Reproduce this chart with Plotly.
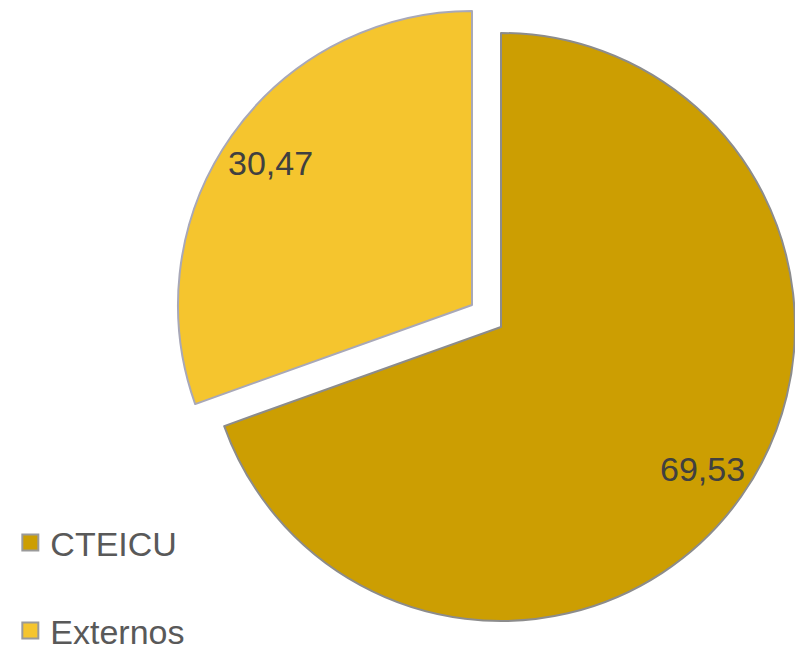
import math
import plotly.graph_objects as go

labels = ["CTEICU", "Externos"]
values = [69.53, 30.47]
colors = ["#CC9E02", "#F5C52E"]
edge_colors = ["#8C8C8C", "#A8A8B8"]

text_labels = [f"{v:.2f}".replace(".", ",") for v in values]

FONT = "Liberation Sans Narrow, Arial Narrow, Liberation Sans, Arial, sans-serif"
W, H = 795, 652

# pie geometry (pixels) – CTEICU slice and the pulled-out Externos slice
R = 294
centers = [(501, 327), (472, 305)]
LABEL_R = 0.84  # label distance from centre, fraction of radius


def dom(cx, cy):
    return dict(x=[max(0, (cx - R) / W), min(1, (cx + R) / W)],
                y=[max(0, (H - cy - R) / H), min(1, (H - cy + R) / H)])


fig = go.Figure()
total = sum(values)
cum = 0.0
annotations = []
for i in range(len(labels)):
    slice_colors = [c if j == i else "rgba(0,0,0,0)" for j, c in enumerate(colors)]
    line_colors = [c if j == i else "rgba(0,0,0,0)" for j, c in enumerate(edge_colors)]
    cx, cy = centers[i]
    fig.add_trace(go.Pie(
        labels=labels, values=values, sort=False, direction="clockwise", rotation=0,
        domain=dom(cx, cy),
        marker=dict(colors=slice_colors, line=dict(color=line_colors, width=2)),
        textinfo="none", showlegend=False, hoverinfo="skip",
    ))
    # data label at the slice's mid angle
    mid = 2 * math.pi * (cum + values[i] / 2) / total
    cum += values[i]
    px = cx + LABEL_R * R * math.sin(mid)
    py = cy - LABEL_R * R * math.cos(mid)
    annotations.append(dict(
        x=px / W, y=1 - py / H, xref="paper", yref="paper",
        text=text_labels[i], showarrow=False, xanchor="center", yanchor="middle",
        font=dict(family=FONT, size=34, color="#404040"),
    ))

# legend entries
for lab, col in zip(labels, colors):
    fig.add_trace(go.Scatter(
        x=[None], y=[None], mode="markers", name=lab, legendgroup=lab,
        marker=dict(symbol="square", size=16, color=col,
                    line=dict(color="#9A9A9A", width=2)),
    ))

fig.update_layout(
    width=W, height=H,
    margin=dict(l=0, r=0, t=0, b=0, autoexpand=False),
    paper_bgcolor="white", plot_bgcolor="white",
    xaxis=dict(visible=False), yaxis=dict(visible=False),
    legend=dict(x=0.013, y=-0.012, xanchor="left", yanchor="bottom",
                font=dict(family=FONT, size=34, color="#595959"),
                tracegroupgap=41, bgcolor="rgba(0,0,0,0)"),
    showlegend=True,
    annotations=annotations,
)

fig.write_html(
    "out.html",
    config={"displayModeBar": False},
    post_script="document.body.style.margin='0';document.documentElement.style.overflow='hidden';",
)
